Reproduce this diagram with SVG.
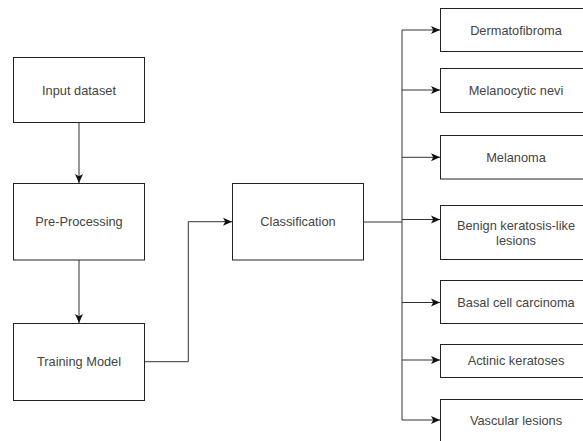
<svg xmlns="http://www.w3.org/2000/svg" width="583" height="441" viewBox="0 0 583 441">
<style>
.box{fill:#fff;stroke:#222;stroke-width:1}
.lbl{font-family:"Liberation Sans",Arial,sans-serif;font-size:12.8px;fill:#444;text-anchor:middle;dominant-baseline:central}
.con{fill:none;stroke:#333;stroke-width:1}
</style>
<defs>
<marker id="ah" markerWidth="9" markerHeight="9" viewBox="0 0 9 9" refX="9" refY="4.5" orient="auto" markerUnits="userSpaceOnUse">
<path d="M0,0.5 L9,4.5 L0,8.5 L2.2,4.5 Z" fill="#111"/>
</marker>
</defs>
<rect width="583" height="441" fill="#fff"/>
<g id="connectors">
<path class="con" d="M79,122.7 V183" marker-end="url(#ah)"/>
<path class="con" d="M79,260 V323" marker-end="url(#ah)"/>
<path class="con" d="M145,361.7 H188.3 V221.7 H232" marker-end="url(#ah)"/>
<path class="con" d="M363.7,222 H402"/>
<path class="con" d="M402,30 V420"/>
<path class="con" d="M402,30 H440" marker-end="url(#ah)"/>
<path class="con" d="M402,90 H440" marker-end="url(#ah)"/>
<path class="con" d="M402,157.3 H440" marker-end="url(#ah)"/>
<path class="con" d="M402,219.5 H440" marker-end="url(#ah)"/>
<path class="con" d="M402,302.5 H440" marker-end="url(#ah)"/>
<path class="con" d="M402,360 H440" marker-end="url(#ah)"/>
<path class="con" d="M402,420 H440" marker-end="url(#ah)"/>
</g>
<g id="input"><rect class="box" x="13.5" y="57.5" width="131" height="65"/><text class="lbl" x="79" y="90">Input dataset</text></g>
<g id="preprocessing"><rect class="box" x="13.5" y="183.5" width="131" height="76.5"/><text class="lbl" x="79" y="221.7">Pre-Processing</text></g>
<g id="training"><rect class="box" x="13.5" y="323.5" width="131" height="77"/><text class="lbl" x="79" y="361.7">Training Model</text></g>
<g id="classification"><rect class="box" x="232.5" y="183.5" width="131" height="76.5"/><text class="lbl" x="298" y="221.7">Classification</text></g>
<g id="dermatofibroma"><rect class="box" x="440.5" y="8.5" width="152" height="43"/><text class="lbl" x="516" y="30">Dermatofibroma</text></g>
<g id="melanocytic"><rect class="box" x="440.5" y="68.5" width="152" height="44"/><text class="lbl" x="516" y="90">Melanocytic nevi</text></g>
<g id="melanoma"><rect class="box" x="440.5" y="135.5" width="152" height="43.5"/><text class="lbl" x="516" y="157.3">Melanoma</text></g>
<g id="benign"><rect class="box" x="440.5" y="205.5" width="152" height="54"/><text class="lbl" x="516" y="225">Benign keratosis-like</text><text class="lbl" x="516" y="240">lesions</text></g>
<g id="basal"><rect class="box" x="440.5" y="280.5" width="152" height="43"/><text class="lbl" x="516" y="302">Basal cell carcinoma</text></g>
<g id="actinic"><rect class="box" x="440.5" y="344.5" width="152" height="33"/><text class="lbl" x="516" y="360">Actinic keratoses</text></g>
<g id="vascular"><rect class="box" x="440.5" y="399.5" width="152" height="60"/><text class="lbl" x="516" y="420">Vascular lesions</text></g>
</svg>
